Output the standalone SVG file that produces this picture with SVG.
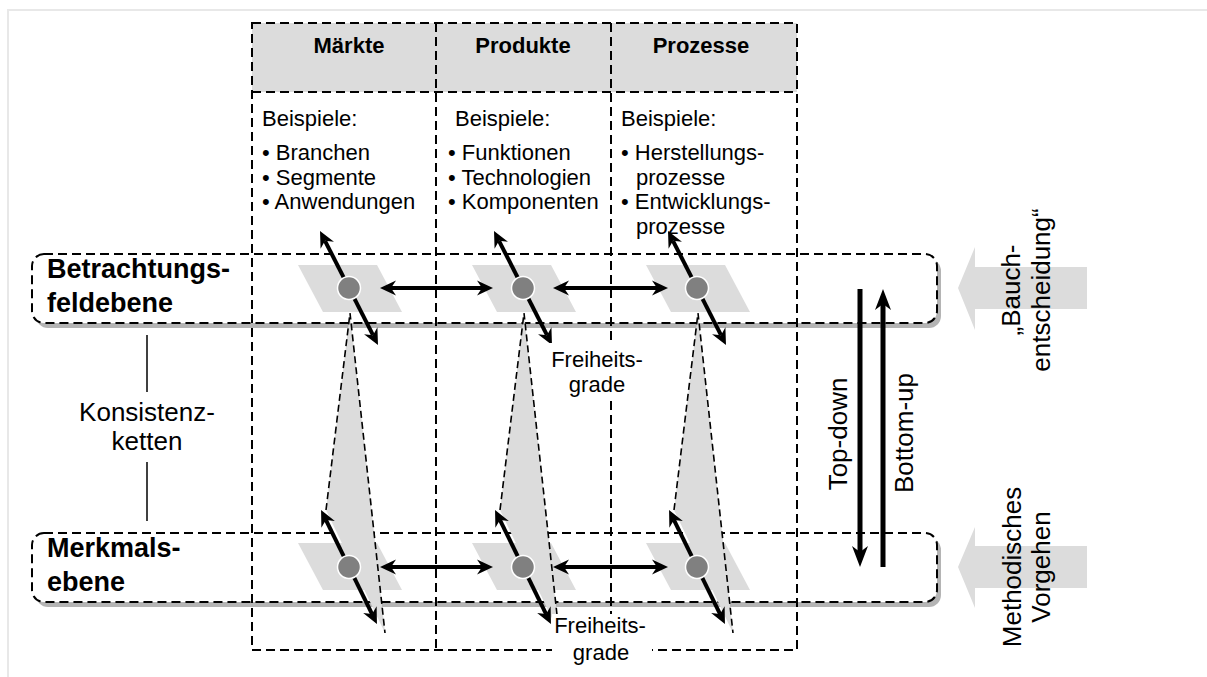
<svg xmlns="http://www.w3.org/2000/svg" width="1207" height="677" viewBox="0 0 1207 677">
  <defs>
    <style>
      text { font-family: "Liberation Sans", Arial, sans-serif; fill: #000; }
      .hdr { font-size: 22px; font-weight: bold; text-anchor: middle; }
      .body { font-size: 22px; }
      .lvl { font-size: 27px; font-weight: bold; }
      .big { font-size: 26px; }
      .mid { text-anchor: middle; }
      .dash { fill: none; stroke: #000; stroke-width: 2; stroke-dasharray: 9 5; }
      .chain-edge { fill: none; stroke: #000; stroke-width: 1.6; stroke-dasharray: 7 4; }
      .chain { fill: #dcdcdc; stroke: none; }
      .plane { fill: #dcdcdc; }
      .dot { fill: #808080; stroke: #fff; stroke-width: 1.5; }
      .arr { fill: none; stroke: #000; stroke-width: 4; marker-start: url(#hd); marker-end: url(#hd); }
      .varr { fill: none; stroke: #000; stroke-width: 5; }
      .shadow { fill: #b4b4b4; }
      .band { fill: #fff; }
      .fat { fill: #dcdcdc; }
      .frame { fill: none; stroke: #e8e8e8; stroke-width: 2; }
      .thin { stroke: #000; stroke-width: 1.5; }
    </style>
    <marker id="hd" viewBox="-17 -9 18 18" refX="-11" refY="0" markerWidth="18" markerHeight="18" markerUnits="userSpaceOnUse" orient="auto-start-reverse">
      <path d="M0,0 L-16,-7.5 L-11,0 L-16,7.5 Z" fill="#000"/>
    </marker>
    <marker id="hv" viewBox="-22 -9 23 18" refX="-15" refY="0" markerWidth="23" markerHeight="18" markerUnits="userSpaceOnUse" orient="auto">
      <path d="M0,0 L-21,-8 L-15,0 L-21,8 Z" fill="#000"/>
    </marker>
  </defs>

  <rect width="1207" height="677" fill="#fff"/>
  <path class="frame" d="M8,677 V10 H1207"/>

  <!-- level bands -->
  <g id="band-betrachtungsfeld">
    <rect class="shadow" x="36" y="259" width="905" height="69" rx="12"/>
    <rect class="band" x="32" y="254" width="905" height="69" rx="12"/>
    <rect class="dash" x="32" y="254" width="905" height="69" rx="12"/>
    <text class="lvl" x="47" y="278">Betrachtungs-</text>
    <text class="lvl" x="47" y="312">feldebene</text>
  </g>
  <g id="band-merkmal">
    <rect class="shadow" x="36" y="538" width="905" height="69" rx="12"/>
    <rect class="band" x="32" y="533" width="905" height="69" rx="12"/>
    <rect class="dash" x="32" y="533" width="905" height="69" rx="12"/>
    <text class="lvl" x="47" y="557">Merkmals-</text>
    <text class="lvl" x="47" y="591">ebene</text>
  </g>

  <!-- column grid -->
  <g id="columns">
    <rect x="252" y="23" width="545" height="69" fill="#dcdcdc"/>
    <rect class="dash" x="252" y="23" width="545" height="627"/>
    <line class="dash" x1="252" y1="92" x2="797" y2="92"/>
    <line class="dash" x1="436" y1="23" x2="436" y2="650"/>
    <line class="dash" x1="611" y1="23" x2="611" y2="650"/>
  </g>

  <g id="col-maerkte">
    <text class="hdr" x="349" y="53">Märkte</text>
    <text class="body" x="262" y="126">Beispiele:</text>
    <text class="body" x="262" y="160">• Branchen</text>
    <text class="body" x="262" y="184.5">• Segmente</text>
    <text class="body" x="262" y="209">• Anwendungen</text>
  </g>
  <g id="col-produkte">
    <text class="hdr" x="523" y="53">Produkte</text>
    <text class="body" x="455" y="126">Beispiele:</text>
    <text class="body" x="448" y="160">• Funktionen</text>
    <text class="body" x="448" y="184.5">• Technologien</text>
    <text class="body" x="448" y="209">• Komponenten</text>
  </g>
  <g id="col-prozesse">
    <text class="hdr" x="701" y="53">Prozesse</text>
    <text class="body" x="621" y="126">Beispiele:</text>
    <text class="body" x="621" y="160">• Herstellungs-</text>
    <text class="body" x="636" y="184.5">prozesse</text>
    <text class="body" x="621" y="209">• Entwicklungs-</text>
    <text class="body" x="636" y="233.5">prozesse</text>
  </g>

  <!-- solution planes -->
  <g id="planes">
    <polygon class="plane" points="298,265 377,265 402,312 323,312"/>
    <polygon class="plane" points="472,265 551,265 576,312 497,312"/>
    <polygon class="plane" points="646,265 725,265 750,312 671,312"/>
    <polygon class="plane" points="298,543 377,543 402,590 323,590"/>
    <polygon class="plane" points="472,543 551,543 576,590 497,590"/>
    <polygon class="plane" points="646,543 725,543 750,590 671,590"/>
  </g>

  <!-- consistency chains -->
  <g id="chains">
    <polygon class="chain" points="350,313 385,633 326,510"/>
    <polygon class="chain" points="524,313 559,633 500,510"/>
    <polygon class="chain" points="698,313 733,633 674,510"/>
    <path class="chain-edge" d="M326,510 L350,313 L385,633"/>
    <path class="chain-edge" d="M500,510 L524,313 L559,633"/>
    <path class="chain-edge" d="M674,510 L698,313 L733,633"/>
  </g>

  <!-- connectors -->
  <g id="connectors">
    <!-- degrees of freedom, upper level -->
    <line class="arr" x1="325" y1="240.8" x2="373" y2="335.2"/>
    <line class="arr" x1="499" y1="240.8" x2="547" y2="335.2"/>
    <line class="arr" x1="673" y1="240.8" x2="721" y2="335.2"/>
    <!-- degrees of freedom, lower level -->
    <line class="arr" x1="325.9" y1="519.9" x2="372.1" y2="614.1"/>
    <line class="arr" x1="499.9" y1="519.9" x2="546.1" y2="614.1"/>
    <line class="arr" x1="673.9" y1="519.9" x2="720.1" y2="614.1"/>
    <!-- links between nodes -->
    <line class="arr" x1="391" y1="288" x2="482" y2="288"/>
    <line class="arr" x1="564" y1="288" x2="657" y2="288"/>
    <line class="arr" x1="391" y1="567" x2="482" y2="567"/>
    <line class="arr" x1="564" y1="567" x2="657" y2="567"/>
    <!-- procedure direction -->
    <line class="varr" x1="860" y1="289" x2="860" y2="552" marker-end="url(#hv)"/>
    <line class="varr" x1="883" y1="567" x2="883" y2="304" marker-end="url(#hv)"/>
    <!-- consistency chain label leaders -->
    <line class="thin" x1="147" y1="335" x2="147" y2="392"/>
    <line class="thin" x1="147" y1="462" x2="147" y2="521"/>
  </g>

  <!-- nodes -->
  <g id="node-bf-maerkte"><circle class="dot" cx="349" cy="288" r="11.5"/></g>
  <g id="node-bf-produkte"><circle class="dot" cx="523" cy="288" r="11.5"/></g>
  <g id="node-bf-prozesse"><circle class="dot" cx="697" cy="288" r="11.5"/></g>
  <g id="node-mk-maerkte"><circle class="dot" cx="349" cy="567" r="11.5"/></g>
  <g id="node-mk-produkte"><circle class="dot" cx="523" cy="567" r="11.5"/></g>
  <g id="node-mk-prozesse"><circle class="dot" cx="697" cy="567" r="11.5"/></g>

  <!-- labels -->
  <g id="label-freiheitsgrade-oben">
    <rect x="548" y="343" width="100" height="57" fill="#fff"/>
    <text class="body mid" x="597" y="367">Freiheits-</text>
    <text class="body mid" x="597" y="392">grade</text>
  </g>
  <g id="label-freiheitsgrade-unten">
    <rect x="552" y="614" width="100" height="58" fill="#fff"/>
    <text class="body mid" x="600" y="633">Freiheits-</text>
    <text class="body mid" x="601" y="660">grade</text>
  </g>
  <g id="label-konsistenz">
    <text class="big mid" x="147" y="421">Konsistenz-</text>
    <text class="big mid" x="147" y="450">ketten</text>
  </g>
  <g id="label-top-down">
    <text class="big mid" transform="translate(847,434) rotate(-90)">Top-down</text>
  </g>
  <g id="label-bottom-up">
    <text class="big mid" transform="translate(913,433) rotate(-90)">Bottom-up</text>
  </g>

  <g id="input-bauchentscheidung">
    <polygon class="fat" points="958,288 975,247 975,267 1087,267 1087,309 975,309 975,330"/>
    <text class="big mid" transform="translate(1020,290) rotate(-90)">„Bauch-</text>
    <text class="big mid" transform="translate(1050,290) rotate(-90)">entscheidung“</text>
  </g>
  <g id="input-methodisch">
    <polygon class="fat" points="958,567 975,527 975,546 1087,546 1087,588 975,588 975,608"/>
    <text class="big mid" transform="translate(1021,567) rotate(-90)">Methodisches</text>
    <text class="big mid" transform="translate(1050,567) rotate(-90)">Vorgehen</text>
  </g>
</svg>
